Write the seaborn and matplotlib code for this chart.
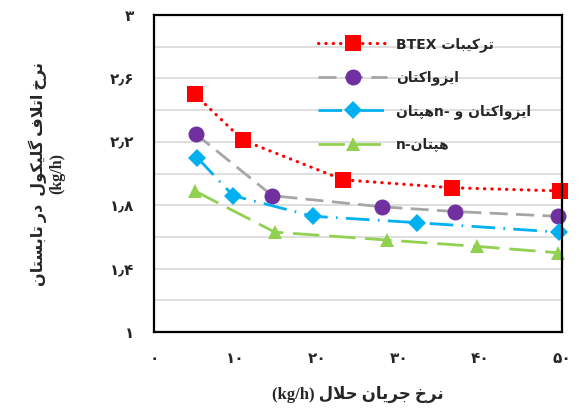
import matplotlib
matplotlib.use('Agg')
import matplotlib.pyplot as plt
import seaborn as sns
from matplotlib.ticker import FixedLocator, FuncFormatter

# Data
btex_x = [5.0, 10.9, 23.2, 36.5, 49.8]
btex_y = [2.50, 2.21, 1.96, 1.91, 1.89]
iso_x = [5.1, 14.5, 27.9, 36.9, 49.5]
iso_y = [2.25, 1.86, 1.79, 1.76, 1.73]
mix_x = [5.3, 9.7, 19.5, 32.2, 49.6]
mix_y = [2.10, 1.86, 1.73, 1.69, 1.63]
hep_x = [5.0, 14.8, 28.6, 39.6, 49.5]
hep_y = [1.89, 1.63, 1.58, 1.54, 1.50]

x_ticks = [0, 10, 20, 30, 40, 50]
y_ticks = [1, 1.4, 1.8, 2.2, 2.6, 3]
y_grid = [1.2, 1.4, 1.6, 1.8, 2.0, 2.2, 2.4, 2.6, 2.8]

# Arabic presentation forms (isolated, final, initial, medial)
FORMS = {
    'ا': ('\uFE8D', '\uFE8E', None, None),
    'ب': ('\uFE8F', '\uFE90', '\uFE91', '\uFE92'),
    'پ': ('\uFB56', '\uFB57', '\uFB58', '\uFB59'),
    'ت': ('\uFE95', '\uFE96', '\uFE97', '\uFE98'),
    'ج': ('\uFE9D', '\uFE9E', '\uFE9F', '\uFEA0'),
    'ح': ('\uFEA1', '\uFEA2', '\uFEA3', '\uFEA4'),
    'خ': ('\uFEA5', '\uFEA6', '\uFEA7', '\uFEA8'),
    'د': ('\uFEA9', '\uFEAA', None, None),
    'ر': ('\uFEAD', '\uFEAE', None, None),
    'ز': ('\uFEAF', '\uFEB0', None, None),
    'س': ('\uFEB1', '\uFEB2', '\uFEB3', '\uFEB4'),
    'ف': ('\uFED1', '\uFED2', '\uFED3', '\uFED4'),
    'ک': ('\uFB8E', '\uFB8F', '\uFB90', '\uFB91'),
    'گ': ('\uFB92', '\uFB93', '\uFB94', '\uFB95'),
    'ل': ('\uFEDD', '\uFEDE', '\uFEDF', '\uFEE0'),
    'ن': ('\uFEE5', '\uFEE6', '\uFEE7', '\uFEE8'),
    'ه': ('\uFEE9', '\uFEEA', '\uFEEB', '\uFEEC'),
    'و': ('\uFEED', '\uFEEE', None, None),
    'ی': ('\uFBFC', '\uFBFD', '\uFBFE', '\uFBFF'),
    'لا': ('\uFEFB', '\uFEFC', None, None),
}


def shape(text):
    chars = []
    i = 0
    while i < len(text):
        if text[i] == 'ل' and i + 1 < len(text) and text[i + 1] == 'ا':
            chars.append('لا')
            i += 2
        else:
            chars.append(text[i])
            i += 1
    out = []
    for k, c in enumerate(chars):
        f = FORMS.get(c)
        if f is None:
            out.append(c)
            continue
        prev = chars[k - 1] if k > 0 else None
        nxt = chars[k + 1] if k + 1 < len(chars) else None
        jp = prev in FORMS and FORMS[prev][2] is not None
        jn = f[2] is not None and nxt in FORMS
        if jp and jn:
            out.append(f[3])
        elif jp:
            out.append(f[1])
        elif jn:
            out.append(f[2])
        else:
            out.append(f[0])
    return ''.join(out)


def fa(text):
    # shaped and reversed for left-to-right drawing
    return shape(text)[::-1]


FA_DIGITS = str.maketrans('0123456789.', '۰۱۲۳۴۵۶۷۸۹٫')


def fa_num(v, pos=None):
    return ('%g' % round(v, 2)).translate(FA_DIGITS)


labels = [
    'BTEX ' + fa('ترکیبات'),
    fa('ایزواکتان'),
    fa('هپتان') + 'n- ' + fa('ایزواکتان و'),
    'n-' + fa('هپتان'),
]
xlabel = '(kg/h) ' + fa('نرخ جریان حلال')
ylabel = fa('نرخ اتلاف گلیکول  در تابستان') + '\n(kg/h)'

sns.set_style('white')
plt.rcParams['font.family'] = ['DejaVu Sans']
plt.rcParams['font.weight'] = 'bold'

fig = plt.figure(figsize=(5.78, 4.12), dpi=100)
ax = fig.add_axes([154 / 578, 1 - 332 / 412, 408 / 578, 317 / 412])

lw = 2.0
sns.lineplot(x=btex_x, y=btex_y, ax=ax, color='#FF0000', lw=2.3,
             linestyle=(0, (0.1, 2.2)), dash_capstyle='round',
             marker='s', markersize=11.5, markeredgewidth=0,
             markeredgecolor='#FF0000', label=labels[0], sort=False, clip_on=False)
sns.lineplot(x=iso_x, y=iso_y, ax=ax, color='#A6A6A6', lw=lw,
             linestyle=(0, (6.5, 3)), marker='o', markersize=11.5,
             markerfacecolor='#7030A0', markeredgecolor='#7030A0', markeredgewidth=0,
             label=labels[1], sort=False, clip_on=False)
sns.lineplot(x=mix_x, y=mix_y, ax=ax, color='#00B0F0', lw=lw,
             linestyle=(0, (8.5, 3, 0.6, 3)), marker='D', markersize=9,
             markeredgecolor='#00B0F0', markeredgewidth=0,
             label=labels[2], sort=False, clip_on=False)
sns.lineplot(x=hep_x, y=hep_y, ax=ax, color='#92D050', lw=lw,
             linestyle=(0, (9.5, 3.5)), marker='^', markersize=10.5,
             markeredgecolor='#92D050', markeredgewidth=0,
             label=labels[3], sort=False, clip_on=False)

ax.set_xlim(0, 50)
ax.set_ylim(1, 3)
ax.xaxis.set_major_locator(FixedLocator(x_ticks))
ax.yaxis.set_major_locator(FixedLocator(y_ticks))
ax.yaxis.set_minor_locator(FixedLocator(y_grid))
ax.xaxis.set_major_formatter(FuncFormatter(fa_num))
ax.yaxis.set_major_formatter(FuncFormatter(fa_num))
ax.grid(True, axis='y', which='both', color='#D9D9D9', lw=1.2)
ax.grid(False, axis='x')
ax.set_axisbelow(True)
ax.tick_params(axis='both', which='both', length=0, labelsize=11)
ax.tick_params(axis='y', pad=14)
ax.tick_params(axis='x', pad=14)
for s in ax.spines.values():
    s.set_visible(True)
    s.set_color('black')
    s.set_linewidth(1.6)

ax.set_xlabel(xlabel, fontsize=12, fontweight='bold',
              family=['Liberation Serif', 'DejaVu Sans'], labelpad=14)
ax.set_ylabel(ylabel, fontsize=11.5, fontweight='bold', multialignment='center',
              family=['Liberation Serif', 'DejaVu Sans'], labelpad=32)

ax.legend(loc='upper left', bbox_to_anchor=((318 - 154) / 408, 0.93),
          frameon=False, fontsize=10, handlelength=5, handletextpad=0.6,
          labelspacing=1.35, borderpad=0, borderaxespad=0, numpoints=1)

fig.savefig('out.png', dpi=100)
